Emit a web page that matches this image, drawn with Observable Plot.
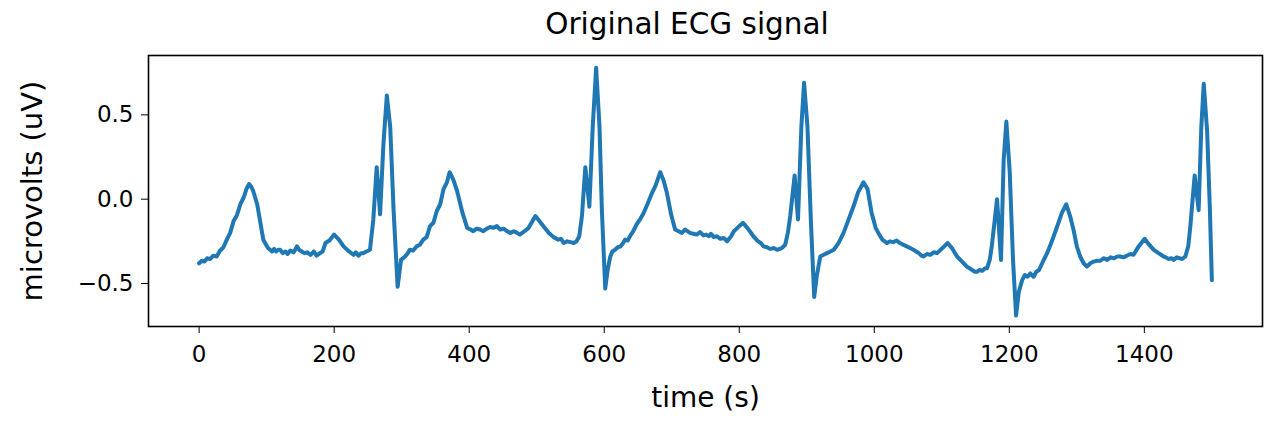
<!DOCTYPE html>
<html>
<head>
<meta charset="utf-8">
<script src="https://cdn.jsdelivr.net/npm/d3@7"></script>
<script src="https://cdn.jsdelivr.net/npm/@observablehq/plot@0.6"></script>
<style>
  html, body { margin: 0; padding: 0; background: #fff; }
  #wrap { position: relative; width: 1264px; height: 423px; font-family: "DejaVu Sans", sans-serif; }
  #title { position: absolute; left: 687px; top: 10px; transform: translateX(-50%); font-size: 29.5px; line-height: 1; white-space: nowrap; color: #000; }
</style>
</head>
<body>
<div id="wrap"><div id="title">Original ECG signal</div></div>
<script>
const time = [
  0, 4, 8, 12, 16, 21, 26, 31, 36, 41,
  46, 51, 56, 61, 66, 70, 74, 77, 80, 86,
  95, 102, 108, 111, 114, 117, 120, 124, 128, 131,
  135, 140, 145, 148, 152, 156, 160, 165, 170, 174,
  179, 183, 187, 193, 200, 207, 214, 222, 229, 232,
  236, 240, 243, 248, 253, 258, 263, 268, 273, 278,
  283, 288, 294, 299, 305, 309, 312, 317, 322, 327,
  332, 337, 342, 347, 352, 357, 362, 367, 371, 376,
  382, 390, 397, 402, 406, 411, 416, 421, 426, 431,
  436, 441, 446, 451, 456, 461, 466, 471, 475, 482,
  488, 498, 504, 510, 518, 525, 532, 536, 540, 545,
  550, 555, 559, 563, 567, 572, 578, 583, 588, 593,
  596.5, 601.5, 605, 609, 612, 616, 620, 624, 628, 631,
  635, 638, 643, 648, 653, 658, 664, 670, 676, 683,
  688, 693, 699, 705, 710, 715, 720, 727, 732, 737,
  742, 747, 751, 755, 758, 762, 767, 772, 777, 782,
  788, 792, 800, 805.5, 812, 821, 828, 832, 836, 841,
  846, 851, 856, 863, 868, 872, 875.5, 882, 887, 892,
  896, 901, 906, 911, 915, 920, 925, 930, 935, 940,
  947, 954.5, 962, 969, 976, 984, 990, 996, 1002, 1006,
  1012, 1019, 1023, 1028, 1033, 1038, 1043, 1048, 1053, 1058,
  1062, 1066, 1070, 1073, 1078, 1083, 1088, 1093, 1101, 1108.6,
  1115, 1122.5, 1130, 1137, 1141, 1145, 1149, 1152, 1156, 1160,
  1164, 1167, 1171, 1174, 1181.8, 1187.7, 1191.6, 1195.6, 1200.5, 1205.5,
  1210, 1214, 1219, 1223, 1227, 1231, 1236, 1240, 1244, 1251,
  1256, 1263, 1270.6, 1278, 1284.4, 1290, 1295, 1300, 1305, 1310,
  1315, 1320, 1325, 1330, 1335, 1340, 1345, 1350, 1355, 1360,
  1364.4, 1369, 1374, 1379, 1384, 1391.6, 1400.4, 1407, 1414, 1421,
  1428.6, 1432, 1436, 1440, 1443.4, 1448, 1452, 1456, 1460.7, 1465,
  1468, 1474.5, 1480.4, 1484.4, 1488, 1493, 1497, 1500
];
const microvolts = [
  -0.38, -0.365, -0.37, -0.35, -0.355, -0.335, -0.34, -0.305, -0.285, -0.24,
  -0.2, -0.13, -0.095, -0.03, 0.01, 0.06, 0.09, 0.075, 0.05, -0.03,
  -0.24, -0.29, -0.31, -0.295, -0.31, -0.3, -0.30, -0.32, -0.31, -0.325,
  -0.305, -0.315, -0.28, -0.30, -0.31, -0.32, -0.315, -0.33, -0.31, -0.335,
  -0.32, -0.31, -0.26, -0.245, -0.21, -0.24, -0.28, -0.31, -0.33, -0.315,
  -0.335, -0.32, -0.32, -0.31, -0.30, -0.12, 0.19, -0.09, 0.33, 0.615,
  0.43, -0.065, -0.52, -0.36, -0.34, -0.32, -0.30, -0.305, -0.28, -0.27,
  -0.24, -0.225, -0.16, -0.14, -0.07, -0.03, 0.06, 0.10, 0.16, 0.12,
  0.05, -0.08, -0.17, -0.18, -0.19, -0.175, -0.18, -0.19, -0.175, -0.165,
  -0.17, -0.16, -0.18, -0.175, -0.19, -0.2, -0.19, -0.20, -0.21, -0.19,
  -0.17, -0.10, -0.13, -0.16, -0.20, -0.225, -0.24, -0.235, -0.26, -0.25,
  -0.255, -0.26, -0.25, -0.22, -0.10, 0.19, -0.045, 0.43, 0.78, 0.43,
  -0.065, -0.53, -0.42, -0.34, -0.31, -0.30, -0.285, -0.28, -0.26, -0.24,
  -0.245, -0.22, -0.19, -0.15, -0.12, -0.085, -0.03, 0.03, 0.08, 0.16,
  0.11, 0.035, -0.09, -0.18, -0.19, -0.20, -0.18, -0.2, -0.205, -0.21,
  -0.195, -0.215, -0.21, -0.22, -0.205, -0.225, -0.22, -0.235, -0.23, -0.25,
  -0.22, -0.19, -0.16, -0.14, -0.17, -0.22, -0.25, -0.26, -0.28, -0.285,
  -0.295, -0.29, -0.30, -0.29, -0.27, -0.20, -0.10, 0.14, -0.12, 0.43,
  0.69, 0.43, -0.12, -0.58, -0.45, -0.34, -0.33, -0.32, -0.31, -0.30,
  -0.26, -0.2, -0.12, -0.045, 0.04, 0.10, 0.06, -0.08, -0.17, -0.20,
  -0.24, -0.26, -0.25, -0.255, -0.245, -0.26, -0.27, -0.28, -0.29, -0.30,
  -0.31, -0.32, -0.335, -0.34, -0.325, -0.33, -0.315, -0.32, -0.29, -0.26,
  -0.29, -0.34, -0.37, -0.40, -0.41, -0.42, -0.43, -0.43, -0.42, -0.425,
  -0.41, -0.41, -0.36, -0.28, 0.0, -0.36, 0.23, 0.46, 0.17, -0.36,
  -0.69, -0.55, -0.48, -0.45, -0.46, -0.44, -0.46, -0.43, -0.42, -0.36,
  -0.32, -0.25, -0.165, -0.08, -0.03, -0.10, -0.18, -0.28, -0.34, -0.38,
  -0.40, -0.38, -0.37, -0.365, -0.365, -0.35, -0.36, -0.345, -0.35, -0.34,
  -0.34, -0.345, -0.335, -0.325, -0.33, -0.28, -0.235, -0.27, -0.30, -0.32,
  -0.34, -0.345, -0.355, -0.35, -0.36, -0.345, -0.35, -0.355, -0.34, -0.28,
  -0.165, 0.14, -0.065, 0.43, 0.685, 0.40, -0.05, -0.48
];
const xTicks = [0, 200, 400, 600, 800, 1000, 1200, 1400];
const yTicks = [-0.5, 0.0, 0.5];

const data = time.map((t, i) => ({t, v: microvolts[i]}));

const chart = Plot.plot({
  width: 1264,
  height: 423,
  marginTop: 55,
  marginBottom: 97,
  marginLeft: 148,
  marginRight: 2,
  style: {fontFamily: "DejaVu Sans, sans-serif", fontSize: "23px", color: "#000", background: "transparent", overflow: "visible"},
  x: {domain: [-75, 1575]},
  y: {domain: [-0.755, 0.852]},
  marks: [
    Plot.line(data, {x: "t", y: "v", stroke: "#1f77b4", strokeWidth: 4, strokeLinejoin: "round", strokeLinecap: "round"}),
    Plot.frame({stroke: "#000", strokeWidth: 1.6}),
    Plot.axisX({ticks: xTicks, tickSize: 7, tickPadding: 12, tickFormat: d => String(d), label: null}),
    Plot.axisY({ticks: yTicks, tickSize: 7, tickPadding: 8, tickFormat: d3.format(".1f"), label: null}),
    Plot.text(["time (s)"], {frameAnchor: "bottom", dy: 80, text: d => d, fontSize: 28}),
    Plot.text(["microvolts (uV)"], {frameAnchor: "left", dx: -116, rotate: -90, textAnchor: "middle", text: d => d, fontSize: 29})
  ]
});
document.getElementById("wrap").appendChild(chart);
</script>
</body>
</html>
